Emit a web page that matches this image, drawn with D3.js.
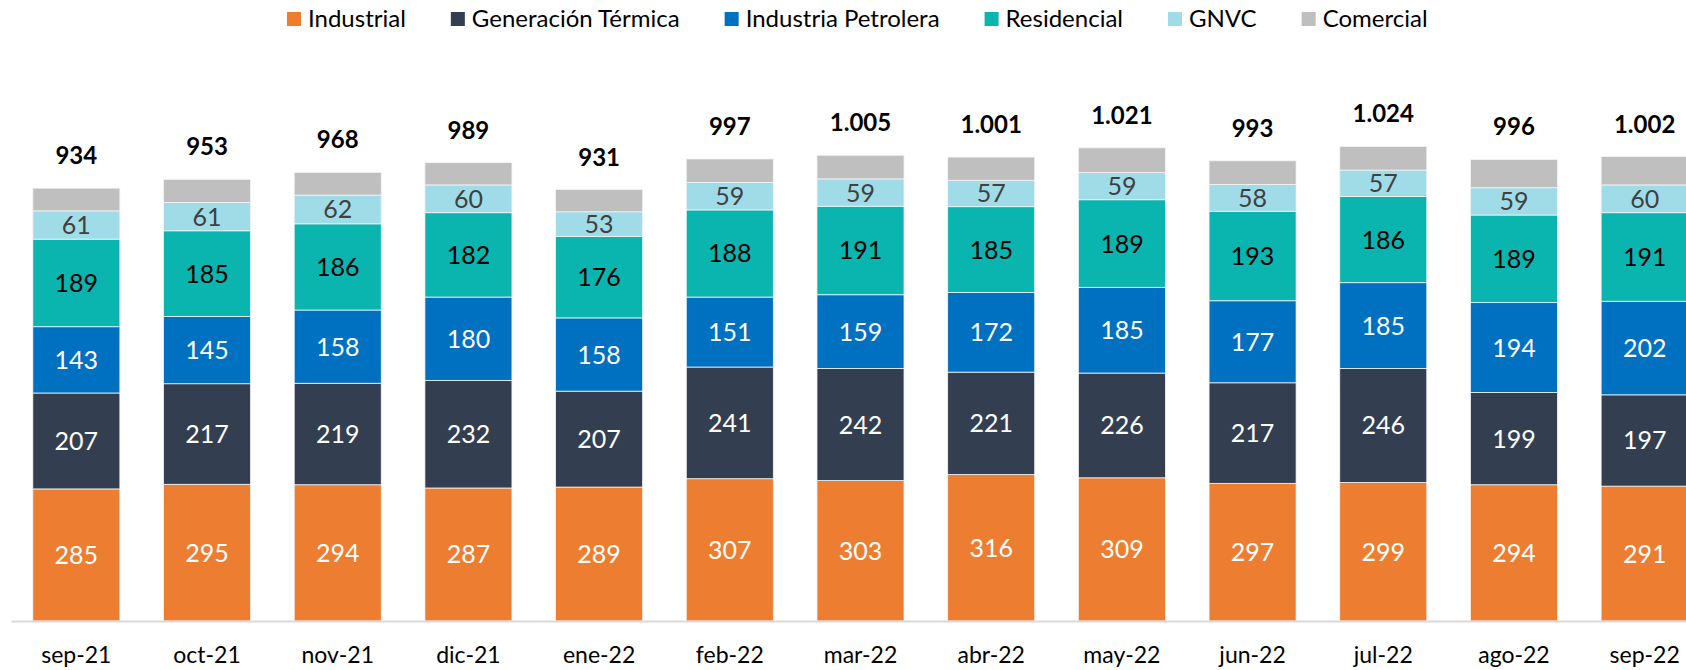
<!DOCTYPE html>
<html lang="es">
<head>
    <meta charset="UTF-8">
    <title>Demanda de gas por sector</title>
    <script src="https://d3js.org/d3.v7.min.js"></script>
    <style>
        body { margin: 0; background: white; }
        svg { display: block; font-family: Lato, "Open Sans", sans-serif; }
    </style>
</head>
<body>
<svg id="chart" width="1686" height="670"></svg>

<script>
    // Months on the x axis
    const months = ["sep-21", "oct-21", "nov-21", "dic-21", "ene-22", "feb-22", "mar-22",
                    "abr-22", "may-22", "jun-22", "jul-22", "ago-22", "sep-22"];

    // Series values
    const industrial  = [285, 295, 294, 287, 289, 307, 303, 316, 309, 297, 299, 294, 291];
    const generacion  = [207, 217, 219, 232, 207, 241, 242, 221, 226, 217, 246, 199, 197];
    const petrolera   = [143, 145, 158, 180, 158, 151, 159, 172, 185, 177, 185, 194, 202];
    const residencial = [189, 185, 186, 182, 176, 188, 191, 185, 189, 193, 186, 189, 191];
    const gnvc        = [61, 61, 62, 60, 53, 59, 59, 57, 59, 58, 57, 59, 60];
    const comercial   = [49, 50, 49, 48, 48, 51, 51, 50, 53, 51, 51, 61, 61];

    // Totals printed above each bar
    const totals = [934, 953, 968, 989, 931, 997, 1005, 1001, 1021, 993, 1024, 996, 1002];

    const series = [
        {name: "Industrial", values: industrial, color: "#ED7D31", text: "#ffffff"},
        {name: "Generación Térmica", values: generacion, color: "#333F50", text: "#ffffff"},
        {name: "Industria Petrolera", values: petrolera, color: "#0070C0", text: "#ffffff"},
        {name: "Residencial", values: residencial, color: "#0AB4AF", text: "#000000"},
        {name: "GNVC", values: gnvc, color: "#9FDCE8", text: "#404040"},
        {name: "Comercial", values: comercial, color: "#BFBFBF", text: null}
    ];

    // Spanish number format: 1.005
    const fmt = d3.formatLocale({decimal: ",", thousands: ".", grouping: [3], currency: ["", ""]}).format(",d");

    const svg = d3.select("#chart");

    // Scales. The plot runs a bit past the right edge, as in the original.
    const x = d3.scaleBand().domain(months).range([11, 1710]).paddingInner(0.334).paddingOuter(0.167);
    const y = d3.scaleLinear().domain([0, 1340]).range([621, 0]);

    // Build stacked rows
    const rows = months.map((m, i) => {
        const row = {month: m};
        series.forEach(s => row[s.name] = s.values[i]);
        return row;
    });
    const stacked = d3.stack().keys(series.map(s => s.name))(rows);

    const layers = svg.append("g")
        .selectAll("g")
        .data(stacked)
        .enter().append("g")
        .attr("fill", (d, i) => series[i].color);

    layers.selectAll("rect")
        .data(d => d)
        .enter().append("rect")
        .attr("x", d => x(d.data.month))
        .attr("width", x.bandwidth())
        .attr("y", d => y(d[1]))
        .attr("height", d => y(d[0]) - y(d[1]))
        .attr("stroke", "#f4f4f4")
        .attr("stroke-width", 0.8);

    // Segment labels
    stacked.forEach((layer, i) => {
        if (!series[i].text) return;
        svg.append("g")
            .selectAll("text")
            .data(layer)
            .enter().append("text")
            .attr("x", d => x(d.data.month) + x.bandwidth() / 2)
            .attr("y", d => (y(d[0]) + y(d[1])) / 2)
            .attr("dy", "0.36em")
            .attr("text-anchor", "middle")
            .attr("font-size", 25)
            .attr("fill", series[i].text)
            .text(d => d[1] - d[0]);
    });

    // Totals
    svg.append("g")
        .selectAll("text")
        .data(months)
        .enter().append("text")
        .attr("x", m => x(m) + x.bandwidth() / 2)
        .attr("y", (m, i) => y(totals[i]) - 24)
        .attr("text-anchor", "middle")
        .attr("font-size", 24)
        .attr("font-weight", "bold")
        .attr("fill", "#000")
        .text((m, i) => fmt(totals[i]));

    // X axis
    const xAxis = svg.append("g")
        .attr("transform", "translate(0,621)")
        .call(d3.axisBottom(x).tickSize(0).tickPadding(0));
    xAxis.select(".domain").attr("stroke", "#D9D9D9").attr("stroke-width", 2);
    xAxis.selectAll("text")
        .attr("font-family", "Lato, sans-serif")
        .attr("font-size", 23)
        .attr("fill", "#000")
        .attr("dy", 0)
        .attr("y", 42);

    // Legend
    const legend = svg.append("g").attr("transform", "translate(287,0)");
    let lx = 0;
    series.forEach(s => {
        const item = legend.append("g").attr("transform", `translate(${lx},0)`);
        item.append("rect")
            .attr("x", 0).attr("y", 12)
            .attr("width", 14).attr("height", 14)
            .attr("fill", s.color);
        const t = item.append("text")
            .attr("x", 21).attr("y", 27)
            .attr("font-size", 24)
            .attr("fill", "#000")
            .text(s.name);
        lx += 21 + t.node().getComputedTextLength() + 45;
    });
</script>
</body>
</html>
